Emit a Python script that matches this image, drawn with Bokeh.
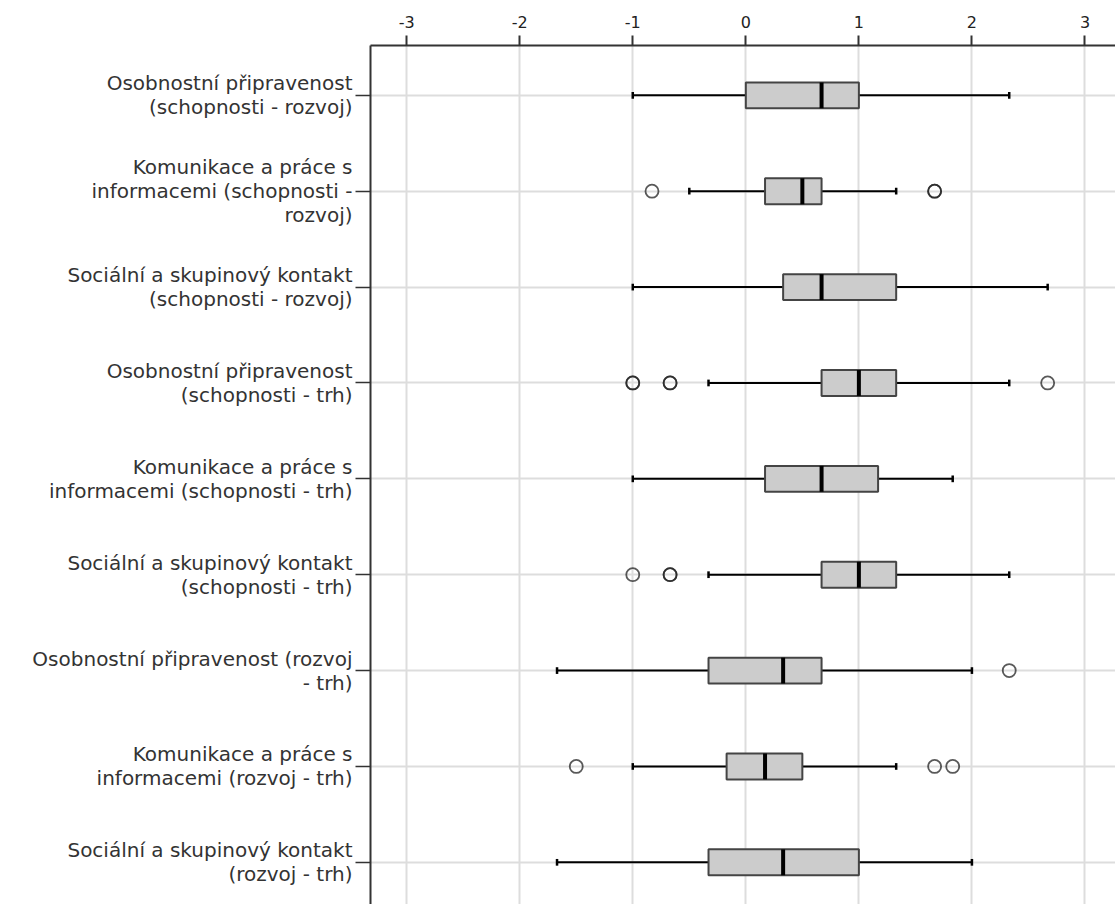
from bokeh.plotting import figure
from bokeh.models import Range1d, FixedTicker
from bokeh.embed import file_html
from bokeh.resources import INLINE

labels = [
    "Osobnostní připravenost\n(schopnosti - rozvoj)",
    "Komunikace a práce s\ninformacemi (schopnosti -\nrozvoj)",
    "Sociální a skupinový kontakt\n(schopnosti - rozvoj)",
    "Osobnostní připravenost\n(schopnosti - trh)",
    "Komunikace a práce s\ninformacemi (schopnosti - trh)",
    "Sociální a skupinový kontakt\n(schopnosti - trh)",
    "Osobnostní připravenost (rozvoj\n- trh)",
    "Komunikace a práce s\ninformacemi (rozvoj - trh)",
    "Sociální a skupinový kontakt\n(rozvoj - trh)",
]
whisker_low = [-1.0, -0.5, -1.0, -0.33, -1.0, -0.33, -1.67, -1.0, -1.67]
q1 = [0.0, 0.17, 0.33, 0.67, 0.17, 0.67, -0.33, -0.17, -0.33]
median = [0.67, 0.5, 0.67, 1.0, 0.67, 1.0, 0.33, 0.17, 0.33]
q3 = [1.0, 0.67, 1.33, 1.33, 1.17, 1.33, 0.67, 0.5, 1.0]
whisker_high = [2.33, 1.33, 2.67, 2.33, 1.83, 2.33, 2.0, 1.33, 2.0]
outlier_row = [1, 1, 1, 3, 3, 3, 3, 3, 5, 5, 5, 6, 7, 7, 7]
outlier_val = [-0.83, 1.67, 1.67, -1.0, -1.0, -0.67, -0.67, 2.67, -1.0, -0.67, -0.67, 2.33, -1.5, 1.67, 1.83]
x_ticks = [-3, -2, -1, 0, 1, 2, 3]
x_tick_labels = ["-3", "-2", "-1", "0", "1", "2", "3"]

n = len(labels)
ys = list(range(n))

p = figure(width=1115, height=904, output_backend="svg", toolbar_location=None,
           x_range=Range1d(-3.32, 3.27), y_range=Range1d(n - 1 + 0.44, -0.52),
           x_axis_location="above", min_border_left=370, min_border_right=0,
           min_border_top=45, min_border_bottom=0)
p.outline_line_color = None
p.background_fill_color = "white"
p.border_fill_color = "white"

# axes
xa = p.xaxis[0]
xa.ticker = FixedTicker(ticks=x_ticks)
xa.major_label_overrides = {t: s for t, s in zip(x_ticks, x_tick_labels)}
xa.minor_tick_line_color = None
xa.major_tick_out = 10
xa.major_tick_in = 0
xa.axis_line_width = 2
xa.major_tick_line_width = 2
xa.axis_line_color = "#333333"
xa.major_tick_line_color = "#333333"
xa.major_label_text_font = "DejaVu Sans"
xa.major_label_text_font_size = "16px"
xa.major_label_text_color = "#222222"
xa.major_label_standoff = 8

ya = p.yaxis[0]
ya.ticker = FixedTicker(ticks=ys)
ya.major_label_overrides = {i: labels[i] for i in ys}
ya.minor_tick_line_color = None
ya.major_tick_out = 15
ya.major_tick_in = 0
ya.axis_line_width = 2
ya.major_tick_line_width = 1.5
ya.axis_line_color = "#333333"
ya.major_tick_line_color = "#333333"
ya.major_label_text_font = "DejaVu Sans"
ya.major_label_text_font_size = "20px"
ya.major_label_text_line_height = 1.0
ya.major_label_text_color = "#333333"
ya.major_label_standoff = 3

p.xgrid.grid_line_color = "#dddddd"
p.xgrid.grid_line_width = 2
p.ygrid.grid_line_color = "#dddddd"
p.ygrid.grid_line_width = 2

# whiskers
p.segment(x0=whisker_low, y0=ys, x1=q1, y1=ys, line_color="black", line_width=2)
p.segment(x0=q3, y0=ys, x1=whisker_high, y1=ys, line_color="black", line_width=2)
cap = 0.035
p.segment(x0=whisker_low, y0=[y - cap for y in ys], x1=whisker_low, y1=[y + cap for y in ys],
          line_color="black", line_width=2.5)
p.segment(x0=whisker_high, y0=[y - cap for y in ys], x1=whisker_high, y1=[y + cap for y in ys],
          line_color="black", line_width=2.5)

# boxes
p.hbar(y=ys, left=q1, right=q3, height=0.27, fill_color="#cccccc",
       line_color="#444444", line_width=2)
# medians
p.segment(x0=median, y0=[y - 0.135 for y in ys], x1=median, y1=[y + 0.135 for y in ys],
          line_color="black", line_width=4)

# outliers
p.scatter(x=outlier_val, y=outlier_row, size=13, marker="circle", fill_color="white",
          fill_alpha=0.0, line_color="#222222", line_alpha=0.75, line_width=1.8)

open("out.html", "w").write(file_html(p, INLINE))
